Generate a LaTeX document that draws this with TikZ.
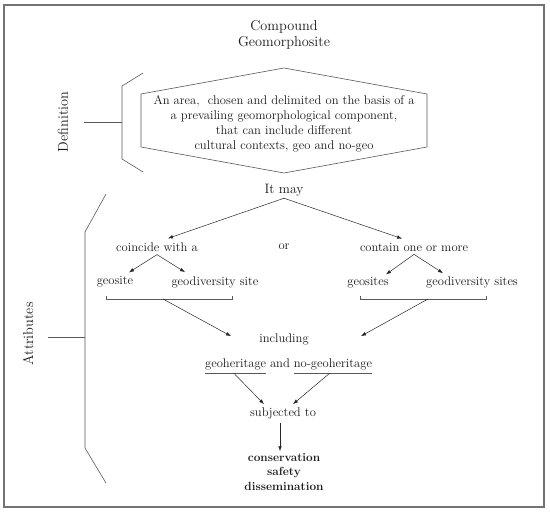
\documentclass[tikz,border=0pt]{standalone}
\usepackage{fontspec}
\usetikzlibrary{arrows.meta}
\begin{document}
\begin{tikzpicture}[x=1pt,y=-1pt,
  txt/.style={inner sep=0pt, font=\fontsize{12.6}{15}\selectfont, text=black!90},
  big/.style={inner sep=0pt, font=\fontsize{14.3}{16}\selectfont, text=black!90},
  arr/.style={-{Latex[length=5pt,width=3.6pt]}, line width=0.5pt, draw=black!85},
  brk/.style={line width=0.6pt, draw=black!65},
  frame/.style={line width=1.3pt, draw=black!55}]
\useasboundingbox (0,0) rectangle (550,514);
\draw[frame] (4,5) rectangle (544,507);

% title
\node[big, align=center] (title) at (284,35) {Compound\\Geomorphosite};

% hexagon
\coordinate (h1) at (284,68);
\coordinate (h2) at (427,94);
\coordinate (h3) at (427,147);
\coordinate (h4) at (284,173);
\coordinate (h5) at (141,147);
\coordinate (h6) at (141,94);
\draw[brk] (h1) -- (h2) -- (h3) -- (h4) -- (h5) -- (h6) -- cycle;
\node[txt, align=center] (def) at (284,123.5) {An area,~ chosen and delimited on the basis of a\\a prevailing geomorphological component,\\that can include different\\cultural contexts, geo and no-geo};

% definition label and bracket
\node[big, rotate=90] (deflab) at (63,122) {Definition};
\coordinate (d1) at (143,73);
\coordinate (d2) at (122,86);
\coordinate (d3) at (122,159);
\coordinate (d4) at (143,172);
\coordinate (dm) at (122,122);
\coordinate (dl) at (84,122);
\draw[brk] (d1) -- (d2) -- (d3) -- (d4);
\draw[brk] (dl) -- (dm);

% attributes label and bracket
\node[big, rotate=90] (attlab) at (28,334) {Attributes};
\coordinate (a1) at (106,194);
\coordinate (a2) at (85,232);
\coordinate (a3) at (85,448);
\coordinate (a4) at (106,483);
\coordinate (am) at (85,337);
\coordinate (al) at (48,337);
\draw[brk] (a1) -- (a2) -- (a3) -- (a4);
\draw[brk] (al) -- (am);

% it may
\node[big, font=\fontsize{13.6}{16}\selectfont] (itmay) at (284,190) {It may};
\node[txt] (coin) at (157,247) {coincide with a};
\node[txt] (or) at (284,247) {or};
\node[txt] (cont) at (414,247) {contain one or more};
\draw[arr] ([yshift=-2pt]itmay.south) -- ([xshift=11pt,yshift=4pt]coin.north);
\draw[arr] ([yshift=-2pt]itmay.south) -- ([xshift=-12pt,yshift=4pt]cont.north);

\node[txt] (gs) at (115,282) {geosite};
\node[txt] (gd) at (215,282) {geodiversity site};
\node[txt] (gss) at (368,283) {geosites};
\node[txt] (gds) at (472,282) {geodiversity sites};
\draw[arr] ([yshift=-3pt]coin.south) -- ([xshift=14pt,yshift=4pt]gs.north);
\draw[arr] ([yshift=-3pt]coin.south) -- ([xshift=-30pt,yshift=4pt]gd.north);
\draw[arr] ([yshift=-3pt]cont.south) -- ([xshift=18pt,yshift=3pt]gss.north);
\draw[arr] ([yshift=-3pt]cont.south) -- ([xshift=-29pt,yshift=3pt]gds.north);

% brackets under sites
\coordinate (lb1) at (106,296);
\coordinate (lb2) at (106,299);
\coordinate (lb3) at (232,299);
\coordinate (lb4) at (232,296);
\coordinate (lbm) at (163,299);
\draw[brk] (lb1) -- (lb2) -- (lb3) -- (lb4);
\coordinate (rb1) at (360,296);
\coordinate (rb2) at (360,299);
\coordinate (rb3) at (486,299);
\coordinate (rb4) at (486,296);
\coordinate (rbm) at (428,299);
\draw[brk] (rb1) -- (rb2) -- (rb3) -- (rb4);

\node[txt] (incl) at (284,339) {including};
\draw[arr] (lbm) -- ([xshift=-53pt,yshift=-3pt]incl.north);
\draw[arr] (rbm) -- ([xshift=77pt,yshift=-3pt]incl.north);

% geoheritage line
\node[txt, anchor=base] (and) at (280,367) {and};
\node[txt, anchor=base east] (gh) at ([xshift=-3.5pt]and.base west) {geoheritage};
\node[txt, anchor=base west] (ngh) at ([xshift=3.5pt]and.base east) {no-geoheritage};
\draw[brk] ([yshift=-6pt]gh.base west) -- ([yshift=-6pt]gh.base east);
\draw[brk] ([yshift=-6pt]ngh.base west) -- ([yshift=-6pt]ngh.base east);

\node[txt] (subj) at (283,413) {subjected to};
\draw[arr] ([xshift=-2pt,yshift=-6pt]gh.base) -- ([xshift=-19pt,yshift=3pt]subj.north);
\draw[arr] ([xshift=-3pt,yshift=-6pt]ngh.base) -- ([xshift=10pt,yshift=3pt]subj.north);

\node[txt, font=\fontsize{11.8}{14.5}\selectfont\bfseries, align=center] (cons) at (284,472) {conservation\\safety\\dissemination};
\draw[arr] ([xshift=-3pt,yshift=-4pt]subj.south) -- ([xshift=-4pt,yshift=2pt]cons.north);
\end{tikzpicture}
\end{document}
